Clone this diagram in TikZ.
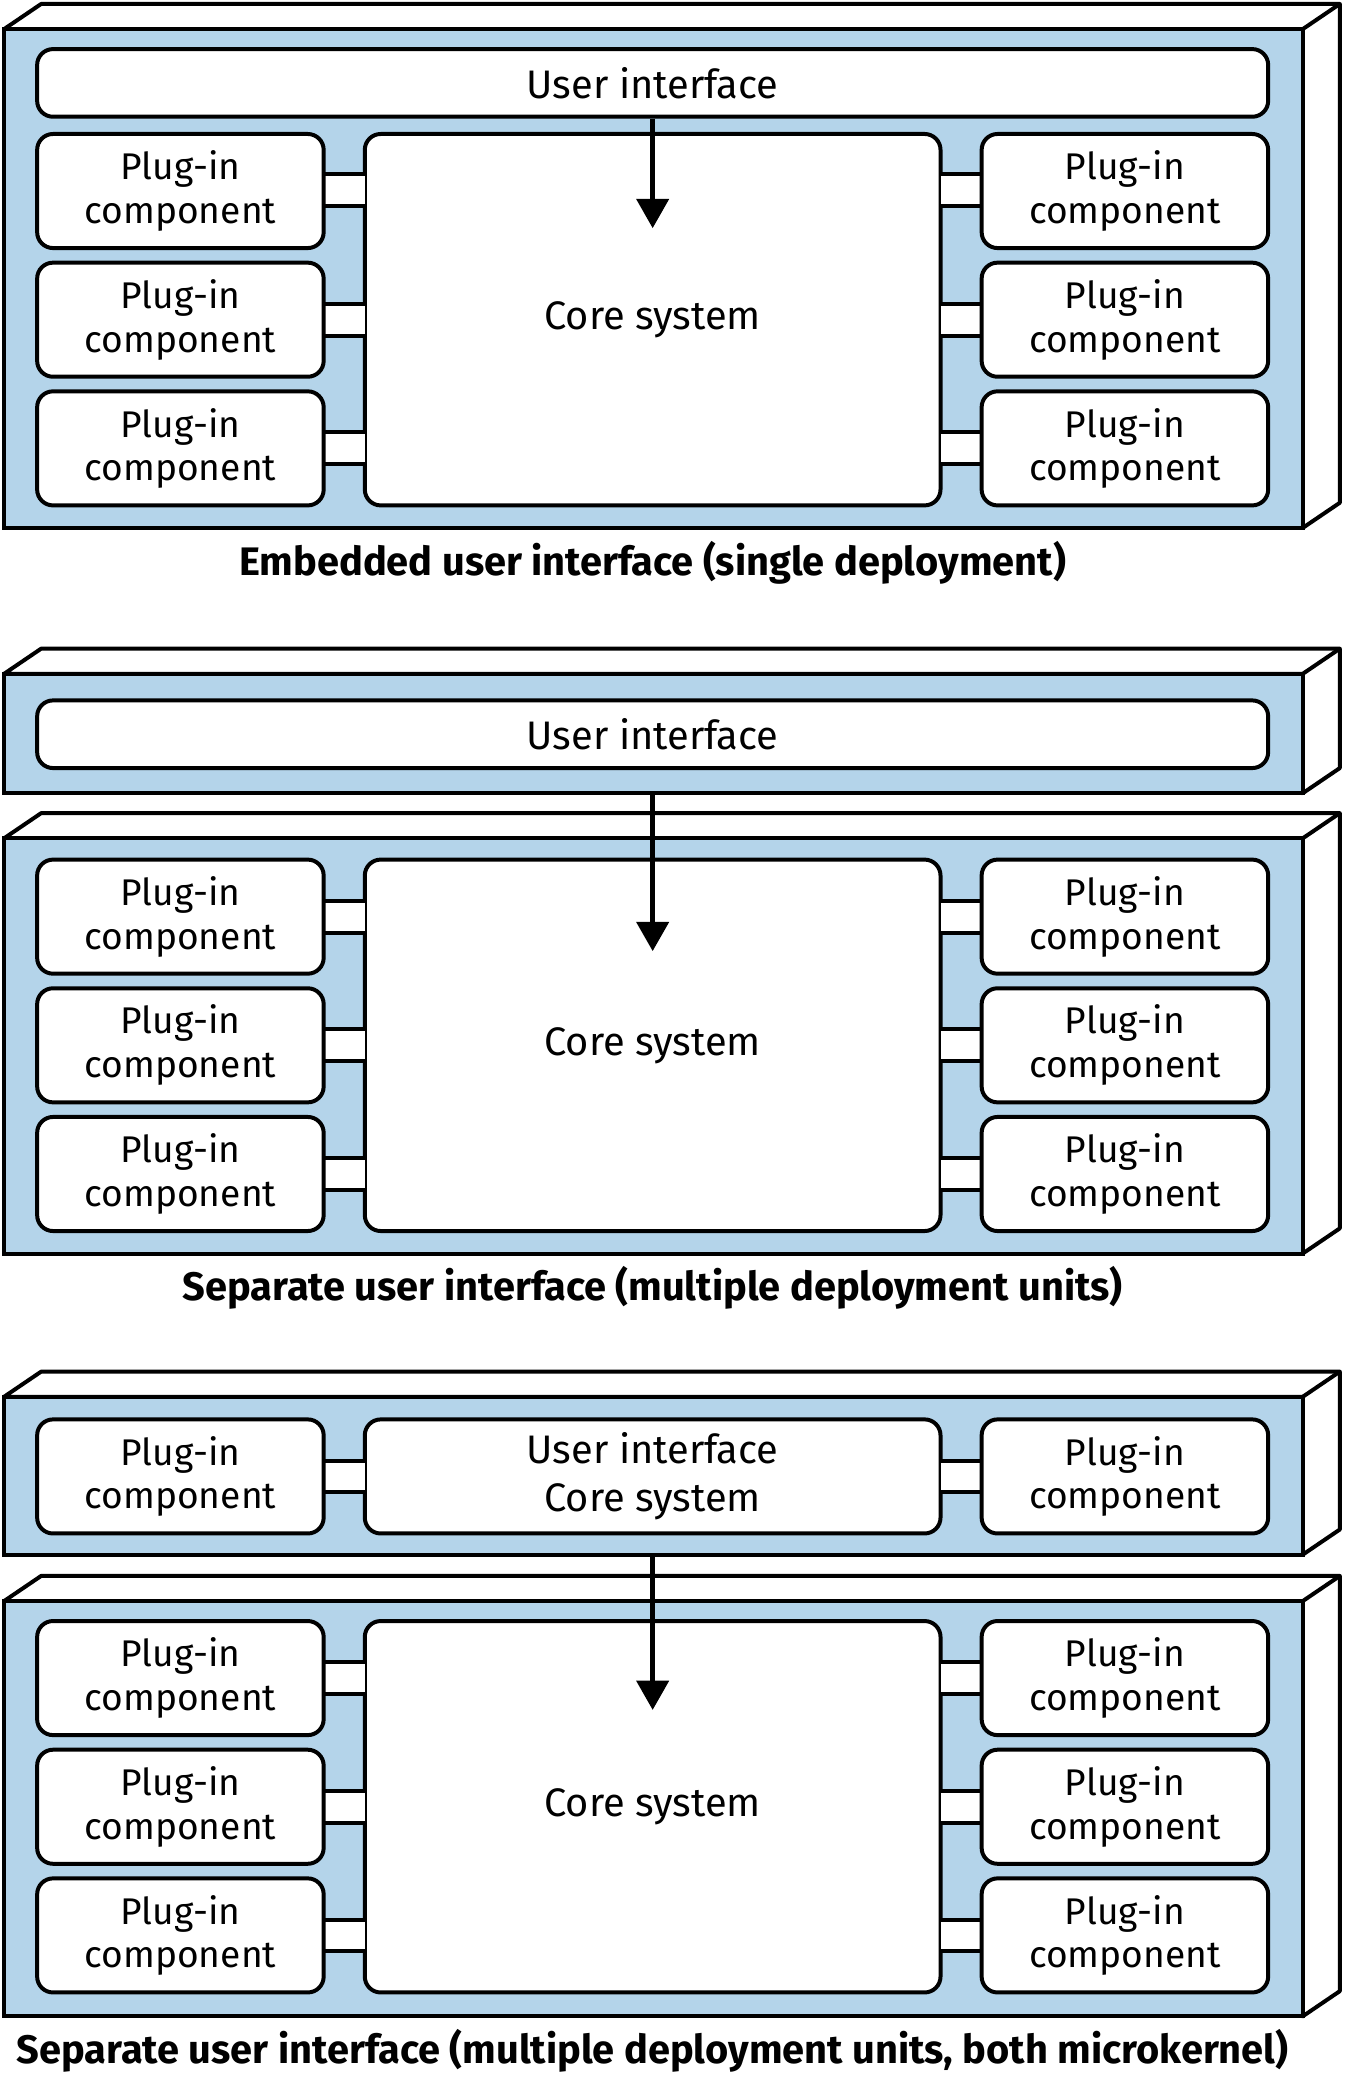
\documentclass[tikz,border=0pt]{standalone}
\usepackage{fontspec}
\usetikzlibrary{arrows.meta}
\setmainfont{Fira Sans}
\definecolor{lb}{HTML}{B4D4EA}
\newcommand\mydbox[2]{% top y, bottom y of front face
  \fill[white,draw=black,line width=3pt,line join=round] (3,-#1)--(31,-#1+19)--(1010,-#1+19)--(1010,-#2+19)--(982,-#2)--(982,-#1)--cycle;
  \draw[line width=3pt,line join=round] (982,-#1)--(1010,-#1+19);
  \draw[fill=lb,line width=3pt] (3,-#1) rectangle (982,-#2);}
\newcommand\myrow[3]{% name, top, bottom
  \node[pl] (#1L) at (136,-#2/2-#3/2) [minimum height=#3-#2] {Plug-in\\component};
  \node[pl] (#1R) at (848,-#2/2-#3/2) [minimum height=#3-#2] {Plug-in\\component};}
\newcommand\myconn[1]{% y center
  \fill[white] (244,-#1+12) rectangle (275,-#1-12);\fill[white] (709,-#1+12) rectangle (740,-#1-12);
  \draw[line width=3pt] (244,-#1+12)--(275,-#1+12) (244,-#1-12)--(275,-#1-12) (709,-#1+12)--(740,-#1+12) (709,-#1-12)--(740,-#1-12);}
\begin{document}
\begin{tikzpicture}[x=1pt,y=1pt,
  bx/.style={draw,line width=3pt,fill=white,rounded corners=12pt,inner sep=0pt},
  pl/.style={bx,minimum width=216,align=center,font=\fontsize{28}{33}\selectfont},
  captxt/.style={font=\bfseries\fontsize{30}{34}\selectfont},
  arr/.style={line width=3.5pt,-{Triangle[length=22pt,width=24pt]}}]
\useasboundingbox (0,0) rectangle (1015,-1568);
% Box 1
\mydbox{22}{398}
\node[bx,minimum width=928,minimum height=51,font=\fontsize{30}{34}\selectfont] (ui1) at (492,-62.5) {User interface};
\node[bx,minimum width=434,minimum height=280,font=\fontsize{30}{34}\selectfont] (core1) at (492,-241) {Core system};
\myconn{143}\myconn{241}\myconn{338}
\myrow{a1}{101}{187}\myrow{a2}{198}{284}\myrow{a3}{295}{381}
\coordinate (t1) at (492,-172);
\draw[arr] (ui1.south) -- (t1);
\node[captxt] (c1) at (492,-424) {Embedded user interface (single deployment)};
% Box 2 and 3
\mydbox{508}{598}
\node[bx,minimum width=928,minimum height=51,font=\fontsize{30}{34}\selectfont] (ui2) at (492,-553.5) {User interface};
\mydbox{632}{945}
\node[bx,minimum width=434,minimum height=280,font=\fontsize{30}{34}\selectfont] (core2) at (492,-788) {Core system};
\myconn{691}\myconn{788}\myconn{885}
\myrow{b1}{648}{734}\myrow{b2}{745}{831}\myrow{b3}{842}{928}
\coordinate (s2) at (492,-598);\coordinate (t2) at (492,-717);
\draw[arr] (s2) -- (t2);
\node[captxt] (c2) at (492,-971) {Separate user interface (multiple deployment units)};
% Box 4 and 5
\mydbox{1053}{1172}
\node[bx,minimum width=434,minimum height=86,align=center,font=\fontsize{30}{36}\selectfont] (core3) at (492,-1113) {User interface\\Core system};
\myconn{1113}
\myrow{d1}{1070}{1156}
\mydbox{1207}{1520}
\node[bx,minimum width=434,minimum height=280,font=\fontsize{30}{34}\selectfont] (core4) at (492,-1362) {Core system};
\myconn{1265}\myconn{1362}\myconn{1459}
\myrow{e1}{1222}{1308}\myrow{e2}{1319}{1405}\myrow{e3}{1416}{1502}
\coordinate (s4) at (492,-1172);\coordinate (t4) at (492,-1289);
\draw[arr] (s4) -- (t4);
\node[captxt] (c4) at (492,-1546) {Separate user interface (multiple deployment units, both microkernel)};
\end{tikzpicture}
\end{document}
